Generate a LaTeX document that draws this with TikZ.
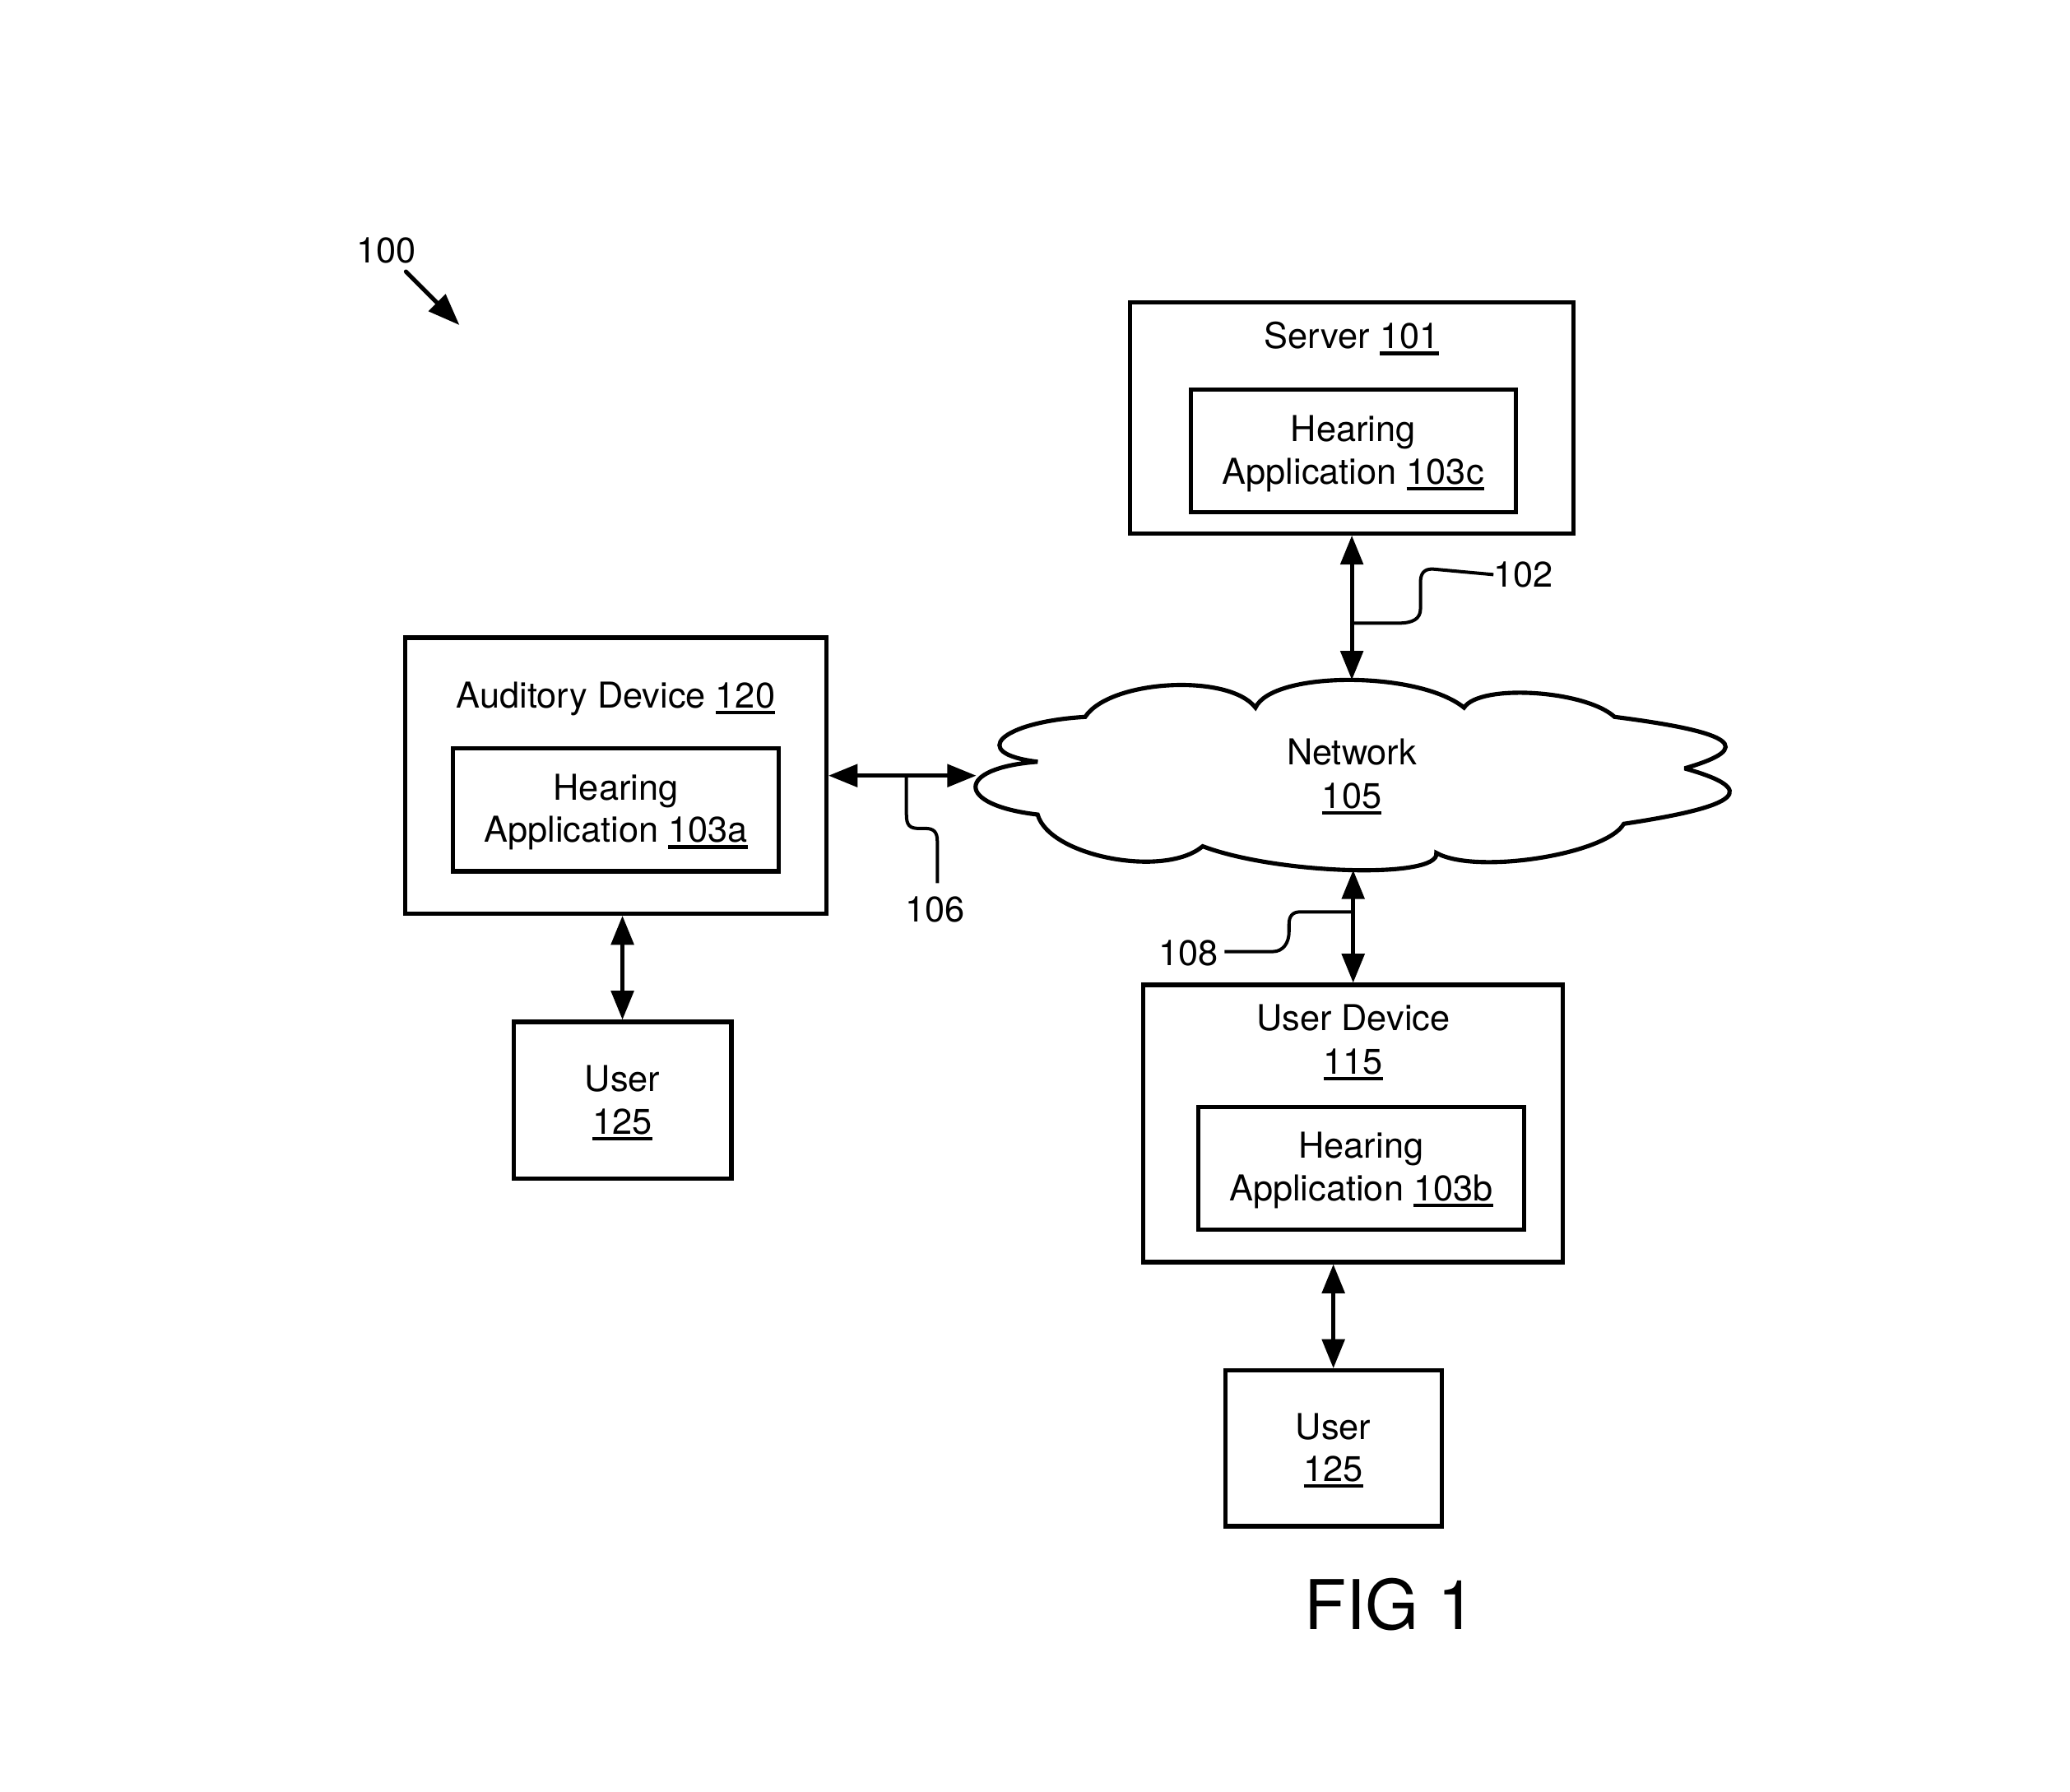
\documentclass[tikz,border=0pt]{standalone}
\usepackage{fontspec}
\setmainfont{TeX Gyre Heros}
\usetikzlibrary{arrows.meta}
\newsavebox\undlbox
\newcommand\undl[1]{\sbox\undlbox{#1}\rlap{\rule[-5pt]{\wd\undlbox}{2.7pt}}\usebox\undlbox}
\newcommand\mainsz{\fontsize{27}{32}\selectfont}
\begin{document}
\begin{tikzpicture}[x=1pt,y=-1pt,
  box/.style={draw, rectangle, line width=3.2pt, inner sep=0pt},
  txt/.style={inner sep=0pt, anchor=base, font=\mainsz},
  conn/.style={line width=3pt, {Triangle[length=22pt,width=17pt]}-{Triangle[length=22pt,width=17pt]}},
  leader/.style={line width=2.5pt},
  cloudline/.style={line width=3.2pt, line join=miter, miter limit=3}]
\useasboundingbox (0,0) rectangle (1568,1357);

% boxes
\node[box, minimum width=336pt, minimum height=175pt] (server) at (1024,316.5) {};
\node[box, minimum width=246pt, minimum height=93pt] (appc) at (1025,341.5) {};
\node[box, minimum width=319pt, minimum height=209pt] (aud) at (466.5,587.5) {};
\node[box, minimum width=247pt, minimum height=93pt] (appa) at (466.5,613.5) {};
\node[box, minimum width=165pt, minimum height=119pt] (user1) at (471.5,833.5) {};
\node[box, minimum width=318pt, minimum height=210pt] (ud) at (1025,851) {};
\node[box, minimum width=247pt, minimum height=93pt] (appb) at (1031,885) {};
\node[box, minimum width=164pt, minimum height=118pt] (user2) at (1010,1097) {};

% texts
\node[txt] (tserver) at (1024,264) {Server \undl{101}};
\node[txt] (tc1) at (1025,334.5) {Hearing};
\node[txt] (tc2) at (1025,366.5) {Application \undl{103c}};
\node[txt] (taud) at (466.5,536) {Auditory Device \undl{120}};
\node[txt] (ta1) at (466.5,606) {Hearing};
\node[txt] (ta2) at (466.5,638) {Application \undl{103a}};
\node[txt] (tu1a) at (471.5,826.7) {User};
\node[txt] (tu1b) at (471.5,859) {\undl{125}};
\node[txt] (tud1) at (1025,780.5) {User Device};
\node[txt] (tud2) at (1025,813.5) {\undl{115}};
\node[txt] (tb1) at (1031,877) {Hearing};
\node[txt] (tb2) at (1031,909.5) {Application \undl{103b}};
\node[txt] (tu2a) at (1010,1090) {User};
\node[txt] (tu2b) at (1010,1122) {\undl{125}};
\node[txt] (tnet1) at (1024,579.5) {Network};
\node[txt] (tnet2) at (1024,612) {\undl{105}};
\node[txt] (l100) at (292.7,199) {100};
\node[txt] (l102) at (1154,444.6) {102};
\node[txt] (l106) at (708.4,698) {106};
\node[txt] (l108) at (900,731.2) {108};
\node[inner sep=0pt, anchor=base, font=\fontsize{52}{60}\selectfont] (fig) at (1053,1234) {FIG 1};

% cloud
\draw[cloudline] (786,577)
  .. controls (732.7,570.6) and (757.9,546.8) .. (822,543)
  .. controls (840.7,514.7) and (930.9,509.8) .. (951,536)
  .. controls (964,508) and (1074.6,508) .. (1109,536)
  .. controls (1120.8,517.75) and (1200.6,522.65) .. (1223,543)
  .. controls (1314.25,554.65) and (1330.15,566.35) .. (1276,582)
  .. controls (1333.2,598) and (1319.4,610.6) .. (1230,624)
  .. controls (1216.7,647.3) and (1117.3,662.7) .. (1088,646)
  .. controls (1091.45,665.95) and (967.55,662.45) .. (911,641)
  .. controls (882.25,665.4) and (794.75,648.6) .. (786,617)
  .. controls (723.3,609.7) and (723.3,581.7) .. (786,577) -- cycle;
\coordinate (nettop) at (1024,515);
\coordinate (netbot) at (1025,659);
\coordinate (netleft) at (739.5,587.5);

% leader lines
\coordinate (j102) at (1024,472);
\draw[leader] (j102) -- (1059,472) .. controls (1070,472) and (1076,469) .. (1076,461)
  -- (1076,441) .. controls (1076,434) and (1079,431) .. (1085,431) -- (l102.west);
\coordinate (j106) at (686.6,587.5);
\coordinate (e106) at (710,669);
\draw[leader] (j106) -- (686.6,617) .. controls (686.6,625) and (689,627.5) .. (696,627.5)
  -- (701,627.5) .. controls (707,627.5) and (710,630) .. (710,637) -- (e106);
\coordinate (j108) at (1025,690.7);
\coordinate (s108) at (927.5,720.8);
\draw[leader] (s108) -- (964,720.8)
  .. controls (972,720.8) and (976.4,714) .. (976.4,706) -- (976.4,700)
  .. controls (976.4,694) and (979,690.7) .. (985,690.7) -- (j108);

% connectors
\draw[conn] (server.south) -- (nettop);
\draw[conn] (aud.east) -- (netleft);
\draw[conn] (netbot) -- (ud.north);
\draw[conn] (user1.north |- aud.south) -- (user1.north);
\draw[conn] (user2.north |- ud.south) -- (user2.north);

% reference arrow 100
\coordinate (a100s) at (307.5,205.7);
\coordinate (a100e) at (348,246.2);
\draw[line width=3.2pt, line cap=round, -{Triangle[length=24pt,width=17.6pt]}] (a100s) -- (a100e);
\end{tikzpicture}
\end{document}
